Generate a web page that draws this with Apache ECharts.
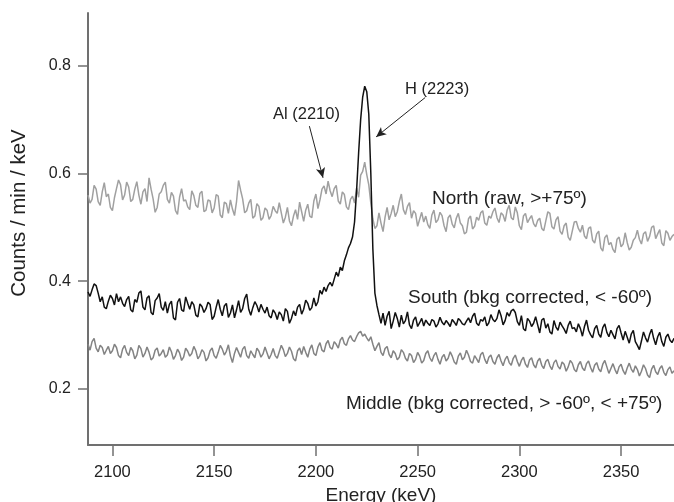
<!DOCTYPE html>
<html>
<head>
<meta charset="utf-8">
<script src="https://cdn.jsdelivr.net/npm/echarts@6/dist/echarts.min.js"></script>
<style>
  html, body { margin: 0; padding: 0; background: #fff; }
  #chart { width: 674px; height: 502px; }
</style>
</head>
<body>
<div id="chart"></div>
<script>
// spectra are binned at 1 keV, first bin 2088 keV
const firstBin = 2088;
const binWidth = 1;

// North (raw, >+75º)
const north = [
  0.56, 0.545, 0.552, 0.578, 0.571, 0.548, 0.541, 0.566, 0.583, 0.557,
  0.562, 0.537, 0.531, 0.555, 0.572, 0.588, 0.579, 0.551, 0.56, 0.584,
  0.575, 0.548, 0.552, 0.571, 0.585, 0.56, 0.543, 0.566, 0.572, 0.548,
  0.592, 0.571, 0.553, 0.528, 0.537, 0.562, 0.566, 0.578, 0.584, 0.552,
  0.545, 0.565, 0.558, 0.531, 0.524, 0.556, 0.572, 0.549, 0.551, 0.538,
  0.533, 0.568, 0.559, 0.541, 0.537, 0.563, 0.567, 0.529, 0.532, 0.551,
  0.549, 0.527, 0.536, 0.561, 0.558, 0.523, 0.518, 0.547, 0.544, 0.526,
  0.551, 0.534, 0.522, 0.548, 0.587, 0.569, 0.553, 0.527, 0.531, 0.545,
  0.552, 0.517, 0.521, 0.544, 0.539, 0.513, 0.518, 0.536, 0.532, 0.515,
  0.522, 0.539, 0.531, 0.526, 0.546, 0.527, 0.508, 0.519, 0.537, 0.512,
  0.503, 0.521, 0.533, 0.515, 0.547, 0.529, 0.511, 0.532, 0.543, 0.521,
  0.518, 0.549, 0.562, 0.535, 0.551, 0.571, 0.577, 0.562, 0.586, 0.568,
  0.557, 0.572, 0.578, 0.549, 0.543, 0.566, 0.561, 0.538, 0.533, 0.552,
  0.558, 0.545, 0.573, 0.556, 0.597, 0.604, 0.621, 0.598, 0.579, 0.545,
  0.516, 0.498, 0.503, 0.527, 0.508, 0.492, 0.519, 0.537, 0.514, 0.526,
  0.541, 0.52, 0.529, 0.548, 0.562, 0.533, 0.524, 0.539, 0.546, 0.517,
  0.531, 0.526, 0.502, 0.515, 0.528, 0.51, 0.521, 0.505, 0.498, 0.523,
  0.532, 0.509, 0.514, 0.528, 0.522, 0.503, 0.492, 0.518, 0.523, 0.506,
  0.499, 0.517, 0.526, 0.508, 0.503, 0.488, 0.491, 0.516, 0.521, 0.497,
  0.502, 0.519, 0.513, 0.527, 0.531, 0.508, 0.504, 0.521, 0.517, 0.529,
  0.536, 0.518, 0.509, 0.527, 0.523, 0.511, 0.532, 0.541, 0.518, 0.514,
  0.538, 0.527, 0.503, 0.496, 0.521, 0.526, 0.509, 0.516, 0.522, 0.507,
  0.501, 0.513, 0.517, 0.498, 0.494, 0.512, 0.529, 0.526, 0.501, 0.497,
  0.514, 0.52, 0.493, 0.487, 0.503, 0.508, 0.482, 0.476, 0.493, 0.51,
  0.511, 0.498, 0.491, 0.504, 0.484, 0.479, 0.498, 0.501, 0.476, 0.471,
  0.488, 0.493, 0.462, 0.456, 0.481, 0.486, 0.468, 0.472, 0.459, 0.453,
  0.478, 0.482, 0.464, 0.469, 0.49, 0.472, 0.458, 0.463, 0.476, 0.481,
  0.495, 0.478, 0.469, 0.488, 0.492, 0.474, 0.483, 0.5, 0.503, 0.479,
  0.488, 0.496, 0.471, 0.466, 0.494, 0.489, 0.476, 0.483, 0.487
];

// South (bkg corrected, < -60º)
const south = [
  0.38, 0.372, 0.384, 0.395, 0.392, 0.378, 0.362, 0.371, 0.352, 0.349,
  0.363, 0.374, 0.368, 0.356, 0.377, 0.362, 0.371, 0.359, 0.353, 0.366,
  0.372, 0.347, 0.343, 0.366, 0.361, 0.378, 0.382, 0.352, 0.347, 0.369,
  0.373, 0.342, 0.338, 0.364, 0.369, 0.377, 0.352, 0.346, 0.362, 0.341,
  0.357, 0.363, 0.332, 0.328, 0.361, 0.368, 0.347, 0.344, 0.371, 0.359,
  0.348, 0.362, 0.356, 0.337, 0.334, 0.358, 0.353, 0.342, 0.349, 0.361,
  0.357, 0.329, 0.335, 0.352, 0.366, 0.348, 0.336, 0.354, 0.359, 0.333,
  0.341, 0.356, 0.332, 0.347, 0.364, 0.342, 0.349, 0.368, 0.376, 0.348,
  0.337, 0.351, 0.362, 0.355, 0.343, 0.357, 0.348, 0.341, 0.352, 0.336,
  0.332, 0.347, 0.341, 0.329, 0.343, 0.338, 0.326, 0.349, 0.344, 0.322,
  0.331, 0.345, 0.336, 0.352, 0.357, 0.339, 0.348, 0.365, 0.359, 0.346,
  0.351, 0.369, 0.354, 0.362, 0.383, 0.376, 0.389, 0.381, 0.392, 0.398,
  0.391, 0.404, 0.417, 0.409, 0.426, 0.42, 0.438, 0.449, 0.462, 0.47,
  0.482, 0.51, 0.568, 0.638, 0.7, 0.742, 0.762, 0.752, 0.71, 0.6,
  0.46, 0.378, 0.355, 0.338, 0.322, 0.341, 0.318, 0.335, 0.344, 0.312,
  0.326, 0.342, 0.331, 0.315, 0.337, 0.321, 0.327, 0.343, 0.319, 0.312,
  0.328, 0.334, 0.316, 0.323, 0.331, 0.317, 0.328, 0.322, 0.318, 0.329,
  0.326, 0.315, 0.321, 0.333, 0.324, 0.319, 0.327, 0.322, 0.316, 0.329,
  0.324, 0.318, 0.331, 0.327, 0.321, 0.319, 0.326, 0.332, 0.323, 0.335,
  0.341, 0.322, 0.318, 0.329, 0.326, 0.334, 0.317, 0.323, 0.338, 0.329,
  0.325, 0.331, 0.347, 0.336, 0.319, 0.327, 0.342, 0.335, 0.345, 0.348,
  0.342, 0.325, 0.318, 0.336, 0.312, 0.308, 0.331, 0.326, 0.316, 0.322,
  0.334, 0.319, 0.304, 0.328, 0.331, 0.313, 0.321, 0.306, 0.302, 0.327,
  0.315, 0.309, 0.324, 0.317, 0.311, 0.303, 0.318, 0.326, 0.312, 0.314,
  0.306, 0.321, 0.312, 0.298, 0.316, 0.328, 0.309, 0.301, 0.295, 0.312,
  0.318, 0.302, 0.296, 0.314, 0.321, 0.305, 0.297, 0.309, 0.301, 0.293,
  0.312, 0.318, 0.304, 0.291, 0.307, 0.296, 0.285, 0.302, 0.309, 0.288,
  0.281, 0.273, 0.289, 0.306, 0.295, 0.287, 0.301, 0.311, 0.294, 0.282,
  0.297, 0.305, 0.288, 0.279, 0.296, 0.302, 0.291, 0.286, 0.294
];

// Middle (bkg corrected, > -60º, < +75º)
const middle = [
  0.283, 0.272, 0.288, 0.294, 0.276, 0.269, 0.281, 0.277, 0.264, 0.272,
  0.279, 0.266, 0.271, 0.283, 0.277, 0.262, 0.258, 0.274, 0.281, 0.268,
  0.262, 0.277, 0.271, 0.256, 0.263, 0.281, 0.275, 0.259, 0.266, 0.278,
  0.268, 0.254, 0.258, 0.272, 0.276, 0.261, 0.266, 0.273, 0.259, 0.263,
  0.278, 0.269, 0.255, 0.262, 0.274, 0.267, 0.253, 0.259, 0.276, 0.27,
  0.261, 0.266, 0.279, 0.271, 0.256, 0.262, 0.273, 0.268, 0.252, 0.258,
  0.271, 0.276, 0.262, 0.257, 0.268, 0.281, 0.274, 0.263, 0.27, 0.282,
  0.261, 0.249, 0.266, 0.277, 0.268, 0.259, 0.274, 0.279, 0.262, 0.257,
  0.271, 0.264, 0.258, 0.276, 0.27, 0.259, 0.265, 0.278, 0.267, 0.256,
  0.264, 0.275, 0.262, 0.257, 0.269, 0.281, 0.273, 0.26, 0.266, 0.278,
  0.27, 0.256, 0.252, 0.271, 0.276, 0.264, 0.279, 0.268, 0.259, 0.274,
  0.282, 0.266, 0.262, 0.278, 0.286, 0.272, 0.269, 0.284, 0.29, 0.277,
  0.274, 0.288, 0.283, 0.276, 0.291, 0.296, 0.284, 0.281, 0.293, 0.299,
  0.291, 0.288, 0.297, 0.304, 0.307, 0.298, 0.302, 0.295, 0.289, 0.297,
  0.283, 0.271, 0.279, 0.286, 0.268, 0.262, 0.275, 0.279, 0.264, 0.258,
  0.271, 0.266, 0.254, 0.259, 0.273, 0.268, 0.257, 0.252, 0.266, 0.262,
  0.249, 0.255, 0.268, 0.261, 0.248, 0.253, 0.266, 0.271, 0.258, 0.251,
  0.262, 0.268, 0.255, 0.246, 0.259, 0.264, 0.252, 0.257, 0.269, 0.261,
  0.25, 0.246, 0.261, 0.267, 0.254, 0.259, 0.272, 0.263, 0.251, 0.248,
  0.262, 0.256, 0.249, 0.264, 0.268, 0.255, 0.247, 0.259, 0.263, 0.251,
  0.246, 0.258, 0.264, 0.252, 0.243, 0.255, 0.261, 0.249, 0.244, 0.257,
  0.263, 0.251, 0.242, 0.253, 0.259, 0.246, 0.24, 0.254, 0.258, 0.245,
  0.239, 0.252, 0.257, 0.244, 0.238, 0.251, 0.255, 0.243, 0.236, 0.249,
  0.254, 0.242, 0.237, 0.25, 0.246, 0.233, 0.241, 0.253, 0.248, 0.236,
  0.232, 0.245, 0.251, 0.239, 0.234, 0.247, 0.252, 0.24, 0.231, 0.244,
  0.249, 0.237, 0.232, 0.246, 0.253, 0.241, 0.229, 0.238, 0.247, 0.236,
  0.228, 0.241, 0.246, 0.234, 0.227, 0.239, 0.248, 0.237, 0.231, 0.243,
  0.236, 0.224, 0.233, 0.245, 0.238, 0.226, 0.221, 0.237, 0.244, 0.232,
  0.227, 0.238, 0.243, 0.231, 0.225, 0.236, 0.241, 0.229, 0.234
];

const xTicks = [2100, 2150, 2200, 2250, 2300, 2350];
const yTicks = [0.2, 0.4, 0.6, 0.8];

const pairs = arr => arr.map((v, i) => [firstBin + i * binWidth, v]);
const font = 'Arial, "Liberation Sans", sans-serif';
const axisColor = '#707070';
const textColor = '#222';

const chart = echarts.init(document.getElementById('chart'));
chart.setOption({
  backgroundColor: '#fff',
  animation: false,
  grid: { left: 88, top: 13, right: 0, bottom: 57, containLabel: false, outerBoundsMode: 'none' },
  xAxis: {
    type: 'value',
    min: 2088,
    max: 2376,
    name: 'Energy (keV)',
    nameLocation: 'middle',
    nameGap: 38,
    nameTextStyle: { fontFamily: font, fontSize: 19, color: textColor },
    axisLine: { onZero: false, lineStyle: { color: axisColor, width: 2 } },
    axisTick: { customValues: xTicks, length: 11, lineStyle: { color: axisColor, width: 1.5 } },
    axisLabel: { customValues: xTicks, margin: 19, fontFamily: font, fontSize: 16.5, color: textColor,
      formatter: v => String(v) },
    splitLine: { show: false }
  },
  yAxis: {
    type: 'value',
    min: 0.096,
    max: 0.898,
    axisLine: { show: true, onZero: false, lineStyle: { color: axisColor, width: 2 } },
    axisTick: { show: true, customValues: yTicks, length: 10, lineStyle: { color: axisColor, width: 1.5 } },
    axisLabel: { customValues: yTicks, margin: 17, fontFamily: font, fontSize: 16, color: textColor,
      formatter: v => v.toFixed(1) },
    splitLine: { show: false }
  },
  series: [
    {
      name: 'North', type: 'line', data: pairs(north), showSymbol: false,
      lineStyle: { color: '#a0a0a0', width: 1.5 }, z: 2
    },
    {
      name: 'Middle', type: 'line', data: pairs(middle), showSymbol: false,
      lineStyle: { color: '#838383', width: 1.5 }, z: 2
    },
    {
      name: 'South', type: 'line', data: pairs(south), showSymbol: false,
      lineStyle: { color: '#111', width: 1.5 }, z: 3,
      markLine: {
        silent: true,
        symbol: ['none', 'arrow'],
        symbolSize: [7, 10],
        label: { show: false },
        lineStyle: { color: '#222', width: 1, type: 'solid' },
        data: [
          [{ coord: [2196.8, 0.688] }, { coord: [2203.5, 0.592] }],
          [{ coord: [2253.7, 0.741] }, { coord: [2229.6, 0.668] }]
        ]
      }
    }
  ],
  graphic: [
    // y axis title sits a little above the plot centre in the original
    { type: 'text', x: 19, y: 213, rotation: Math.PI / 2,
      style: { text: 'Counts / min / keV', font: '20.5px ' + font, fill: textColor, align: 'center', verticalAlign: 'middle' } },
    { type: 'text', x: 273, y: 114, style: { text: 'Al (2210)', font: '16.5px ' + font, fill: textColor, verticalAlign: 'middle' } },
    { type: 'text', x: 405, y: 89, style: { text: 'H (2223)', font: '16.5px ' + font, fill: textColor, verticalAlign: 'middle' } },
    { type: 'text', x: 432, y: 199, style: { text: 'North (raw, >+75º)', font: '19px ' + font, fill: textColor, verticalAlign: 'middle' } },
    { type: 'text', x: 408, y: 298, style: { text: 'South (bkg corrected, < -60º)', font: '19px ' + font, fill: textColor, verticalAlign: 'middle' } },
    { type: 'text', x: 346, y: 404, style: { text: 'Middle (bkg corrected, > -60º, < +75º)', font: '19px ' + font, fill: textColor, verticalAlign: 'middle' } }
  ]
});
</script>
</body>
</html>
